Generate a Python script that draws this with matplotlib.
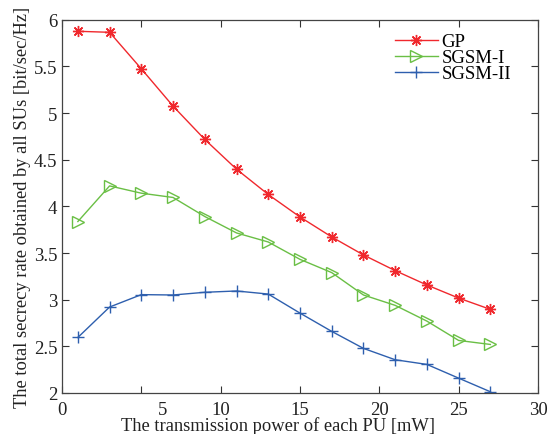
import numpy as np
import matplotlib
matplotlib.use("Agg")
import matplotlib.pyplot as plt
from matplotlib.transforms import ScaledTranslation

# ==========================
# data
# ==========================
power = [1, 3, 5, 7, 9, 11, 13, 15, 17, 19, 21, 23, 25, 27]
gp = [5.876, 5.865, 5.474, 5.074, 4.717, 4.398, 4.127, 3.886, 3.672, 3.479,
      3.311, 3.157, 3.017, 2.896]
sgsm1 = [3.837, 4.219, 4.141, 4.095, 3.891, 3.715, 3.618, 3.432, 3.290, 3.050,
         2.939, 2.770, 2.563, 2.520]
sgsm2 = [2.595, 2.921, 3.054, 3.050, 3.079, 3.093, 3.060, 2.856, 2.660, 2.478,
         2.356, 2.306, 2.159, 2.013]

# ==========================
# plot
# ==========================
plt.rcParams["font.family"] = ["Liberation Serif", "DejaVu Serif"]

fig = plt.figure(figsize=(5.52, 4.35), dpi=100)
ax = fig.add_axes([0.1123, 0.0943, 0.8623, 0.8581])

ax.plot(power, gp, color="#f0282d", lw=1.0, marker=(8, 2, 0), ms=8,
        mew=1.0, label="GP")
ax.plot(power, sgsm1, color="#6abf45", lw=1.0, marker=">", ms=9,
        mfc="none", mew=1.0, label="SGSM-I")
ax.plot(power, sgsm2, color="#2e5fae", lw=1.0, marker="+", ms=9,
        mew=1.0, label="SGSM-II")

ax.set_xlim(0, 30)
ax.set_ylim(2, 6)
ax.set_xticks([0, 5, 10, 15, 20, 25, 30])
ax.set_yticks([2, 2.5, 3, 3.5, 4, 4.5, 5, 5.5, 6])
ax.set_yticklabels(["2", "2.5", "3", "3.5", "4", "4.5", "5", "5.5", "6"])
ax.tick_params(direction="in", top=True, right=True, labelsize=13.5,
               length=5, width=0.8, colors="#333333", labelcolor="#222222")
ax.tick_params(axis="x", pad=6)
for s in ax.spines.values():
    s.set_color("#444444")
    s.set_linewidth(0.9)

ax.set_xlabel("The transmission power of each PU [mW]", fontsize=13.3,
              color="#222222", va="top")
ax.xaxis.set_label_coords(0.454, -0.061)
ax.set_ylabel("The total secrecy rate obtained by all SUs [bit/sec/Hz]",
              fontsize=13.3, color="#222222", labelpad=2)

ax.legend(loc="upper right", frameon=False, fontsize=13.5, labelspacing=-0.06,
          handlelength=2.3, handletextpad=0.2, borderaxespad=0.3,
          bbox_to_anchor=(0.971, 0.999))

# the "5" label sits a bit right of its tick in the original
fig.canvas.draw()
lab5 = ax.get_xticklabels()[1]
lab5.set_transform(lab5.get_transform() + ScaledTranslation(0.21, 0, fig.dpi_scale_trans))

plt.savefig("out.png", dpi=100)
plt.close()
